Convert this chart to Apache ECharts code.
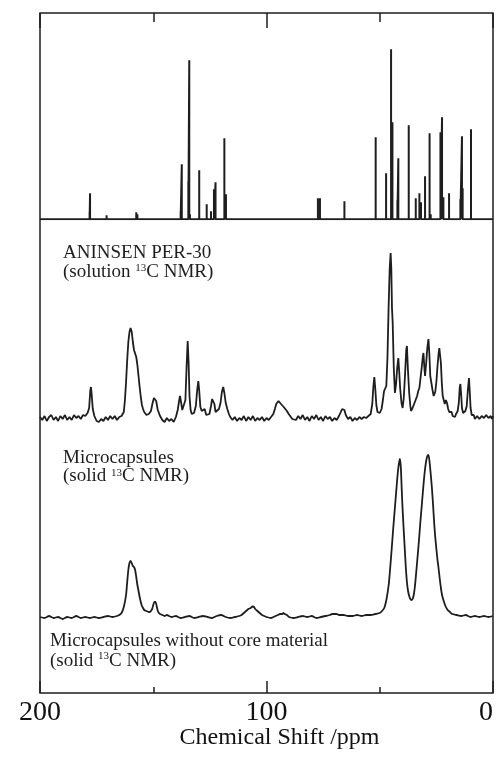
<!DOCTYPE html>
<html><head><meta charset="utf-8">
<script src="https://cdn.jsdelivr.net/npm/echarts@6/dist/echarts.min.js"></script>
<style>html,body{margin:0;padding:0;background:#fff}#c{width:496px;height:758px}</style>
</head><body><div id="c"></div>
<script>
// ---- data (intensities in arbitrary units) ----
const xTicks = [200, 100, 0];
const stickPpm = [178.1,177.9,170.6,157.5,157.0,137.9,137.4,134.5,134.1,133.8,129.7,126.4,124.5,123.2,122.5,118.6,117.9,77.3,76.4,65.6,51.8,47.2,45.0,44.4,42.2,41.8,37.2,34.1,32.5,31.8,30.0,28.0,27.5,23.2,22.5,21.9,19.4,14.4,13.7,13.4,9.7];
const stickHeight = [7,26,4,7,5,8,55,38,159,5,49,15,8,30,37,81,25,21,21,18,82,46,170,97,19,61,94,21,26,17,43,86,5,87,102,22,26,20,83,31,90];

const solutionSpectrum = [[200,1],[199,-2],[198,2],[197,-3],[196,1],[195,3],[194,-2],[193,1],[192,-3],[191,2],[190,-1],[189,3],[188,-2],[187,1],[186,-2],[185,3],[184,0],[183,2],[182,-1],[181,3],[180,2],[179,5],[178.3,10],[177.8,27],[177.5,31],[177.2,24],[176.7,9],[176,2],[175,-3],[174,-4],[173,-1],[172,-3],[171,1],[170,-2],[169,2],[168,-1],[167,2],[166,-2],[165,1],[164,2],[163,6],[162.5,18],[162,36],[161.5,58],[161,76],[160.5,86],[160,90],[159.5,86],[159,76],[158.5,68],[158,66],[157.5,61],[157,53],[156.5,42],[156,31],[155.5,21],[155,13],[154.5,9],[154,6],[153,3],[152,4],[151,7],[150.3,15],[149.7,20],[149.2,21],[148.7,17],[148,8],[147,2],[146,-2],[145,-4],[144,0],[143,-3],[142,-1],[141,-4],[140,1],[139.2,8],[138.6,17],[138.2,22],[137.8,17],[137.2,8],[136.6,6],[135.8,18],[135.3,50],[134.8,77],[134.4,56],[134,22],[133.5,8],[133,4],[132,5],[131.2,12],[130.6,28],[130.1,37],[129.7,27],[129.2,11],[128.6,7],[128,6],[127.3,9],[126.6,3],[126,1],[125.2,4],[124.5,12],[124,19],[123.5,21],[123,14],[122.5,6],[121.8,8],[121,9],[120.3,15],[119.7,26],[119.1,31],[118.6,25],[118,15],[117.3,9],[116.6,4],[116,1],[115,-2],[114,1],[113,-3],[112,0],[111,-2],[110,2],[109,-3],[108,1],[107,-2],[106,2],[105,-3],[104,0],[103,-2],[102,1],[101,-3],[100,0],[99,-2],[98,1],[97,4],[96.3,9],[95.7,14],[95.2,16],[94.7,17],[94.2,16],[93.6,14],[93,12],[92.4,11],[91.8,9],[91,7],[90.2,4],[89.4,2],[88.6,-1],[88,1],[87,-2],[86,2],[85,-1],[84,3],[83,-2],[82,1],[81,-3],[80,2],[79,-1],[78,3],[77,-2],[76,1],[75,-3],[74,2],[73,-1],[72,1],[71,-3],[70,0],[69,-2],[68,2],[67.2,4],[66.6,9],[66.1,11],[65.6,8],[65,3],[64,-1],[63,1],[62,-3],[61,0],[60,-2],[59,1],[58,-1],[57,1],[56,0],[55,2],[54,4],[53.3,14],[52.8,32],[52.4,41],[52,30],[51.5,13],[51,6],[50.5,4],[50,5],[49.2,9],[48.6,18],[48.1,27],[47.6,25],[47.1,32],[46.6,60],[46.1,110],[45.6,150],[45.2,165],[44.9,150],[44.6,110],[44.3,96],[43.8,50],[43.3,25],[42.8,34],[42.3,50],[41.8,60],[41.4,46],[41,30],[40.4,15],[39.9,10],[39.4,20],[38.8,45],[38.3,68],[38,72],[37.6,50],[37,25],[36.5,12],[36.2,7],[35.5,10],[35,13],[34.5,16],[34,18],[33.5,22],[33,27],[32.5,30],[32,40],[31.5,50],[31,61],[30.7,65],[30.3,50],[30,42],[29.5,55],[29,70],[28.5,79],[28.1,64],[27.7,42],[27.2,35],[26.7,28],[26.2,22],[25.9,21],[25.5,26],[25,36],[24.5,52],[24,65],[23.7,70],[23.4,71],[23,55],[22.6,35],[22.2,22],[21.8,20],[21.3,14],[20.8,18],[20.3,15],[19.8,9],[19.3,6],[18.8,4],[18.3,6],[17.8,2],[17.3,4],[16.8,1],[16.3,4],[15.6,7],[15.1,15],[14.7,30],[14.4,34],[14.1,25],[13.7,10],[13.2,5],[12.7,4],[12.2,7],[11.6,12],[11.1,28],[10.6,40],[10.3,28],[9.9,10],[9.4,3],[9,1],[8.5,3],[8,-1],[7,2],[6,-1],[5,2],[4,0],[3,3],[2,0],[1,2],[0.5,-1],[0,2]];

const microSpectrum = [[200,0],[198,-1],[196,1],[194,-1],[192,0],[190,-2],[188,0],[186,-1],[184,1],[182,-1],[180,0],[178,-1],[176,0],[174,-1],[172,0],[170,1],[168,0],[166,1],[165,2],[164,4],[163,10],[162,22],[161.5,35],[161,47],[160.5,54],[160,56],[159.5,54],[159,51],[158.5,50],[158,47],[157.5,40],[157,32],[156.5,26],[156,20],[155.5,15],[155,11],[154.5,9],[154,7],[153,6],[152,5],[151.5,5],[150.5,8],[150,12],[149.5,15],[149,15],[148.5,11],[148,6],[147.5,4],[147,3],[146,2],[145,1],[144,2],[142,0],[140,1],[138,-1],[136,0],[134,1],[132,-1],[130,0],[128,1],[126,0],[124,-1],[122,1],[120,2],[118,0],[116,-1],[114,0],[112,1],[111,2],[110,4],[109,6],[108,8],[107,9],[106.2,10.5],[105.5,10],[105,8],[104,6],[103,4],[102,2],[101,1],[100,0],[98,-1],[96,1],[95,2],[94,3],[93,3],[92.5,4],[92,3],[91,2],[90,0],[88,-1],[86,0],[84,1],[82,0],[80,1],[78,-1],[76,0],[74,1],[72,2],[71,3],[70,3],[69,3],[68,2],[66,2],[64,1],[62,1],[60,2],[58,1],[56,2],[54,2],[52,3],[50,4],[49,6],[48,9],[47,18],[46,33],[45.5,46],[45,60],[44.5,75],[44,90],[43.5,104],[43,118],[42.5,132],[42,145],[41.5,154],[41.1,158],[40.7,150],[40.3,128],[40,112],[39.5,90],[39,70],[38.5,50],[38,35],[37.5,26],[37,21],[36.5,18],[36,17],[35.5,18],[35,22],[34.5,30],[34,42],[33.5,55],[33,68],[32.5,82],[32,97],[31.5,110],[31,124],[30.5,137],[30,148],[29.5,156],[29,161],[28.5,162],[28,155],[27.5,143],[27,130],[26.4,110],[26,95],[25.5,80],[25,68],[24.5,57],[24.1,50],[23.5,38],[23,29],[22.5,22],[21.9,17],[21,11],[20,7],[19,5],[18,3],[16,2],[14,1],[12,2],[10,0],[8,1],[6,0],[4,1],[2,0],[0,1]];

const labelSolution = 'ANINSEN PER-30\n(solution {sup|13}C NMR)';
const labelMicro = 'Microcapsules\n(solid {sup|13}C NMR)';
const labelNoCore = 'Microcapsules without core material\n(solid {sup|13}C NMR)';
const axisTitle = 'Chemical Shift /ppm';

// ---- build stick line (sticks joined along the baseline) ----
const stickLine = [[200, 0]];
stickPpm.forEach((p, i) => { stickLine.push([p, 0], [p, stickHeight[i]], [p, 0]); });
stickLine.push([0, 0]);

const INK = '#1e1e1e';
const SERIF = '"Liberation Serif", "DejaVu Serif", serif';
const chart = echarts.init(document.getElementById('c'), null, {renderer: 'canvas'});

const hiddenX = (g) => ({type: 'value', gridIndex: g, min: 0, max: 200, inverse: true, show: false});
const supRich = {sup: {fontSize: 11, fontFamily: SERIF, fill: INK, color: INK, verticalAlign: 'top', lineHeight: 11}};

chart.setOption({
  animation: false,
  backgroundColor: '#fff',
  grid: [
    {left: 40, right: 3, top: 13, bottom: 65, show: true, borderColor: INK, borderWidth: 1.5, backgroundColor: 'transparent', outerBoundsMode: 'none'},
    {left: 40, right: 3, top: 19.3, height: 200, outerBoundsMode: 'none'},
    {left: 40, right: 3, top: 238, height: 200, outerBoundsMode: 'none'},
    {left: 40, right: 3, top: 437, height: 200, outerBoundsMode: 'none'}
  ],
  xAxis: [
    {type: 'value', gridIndex: 0, position: 'bottom', min: 0, max: 200, interval: 100, inverse: true,
     axisLine: {show: false},
     axisTick: {show: true, inside: true, length: 12, lineStyle: {color: INK, width: 1.5}},
     minorTick: {show: true, splitNumber: 2, length: 6, lineStyle: {color: INK, width: 1.5}},
     splitLine: {show: false},
     axisLabel: {show: true, margin: 6, fontSize: 28, fontFamily: SERIF, color: '#111',
       formatter: v => (xTicks.indexOf(v) >= 0 ? String(v) : ''), alignMinLabel: 'right'},
     name: axisTitle, nameLocation: 'middle', nameGap: 33, nameMoveOverlap: false,
     nameTextStyle: {fontSize: 24, fontFamily: SERIF, color: '#111', padding: [0, 0, 0, 26]}},
    {type: 'value', gridIndex: 0, position: 'top', min: 0, max: 200, interval: 100, inverse: true,
     axisLine: {show: false},
     axisTick: {show: true, inside: true, length: 15, lineStyle: {color: INK, width: 1.5}},
     minorTick: {show: true, splitNumber: 2, length: 9, lineStyle: {color: INK, width: 1.5}},
     splitLine: {show: false}, axisLabel: {show: false}},
    hiddenX(1), hiddenX(2), hiddenX(3)
  ],
  yAxis: [
    {type: 'value', gridIndex: 0, min: 0, max: 1, show: false},
    {type: 'value', gridIndex: 1, min: 0, max: 200, show: false},
    {type: 'value', gridIndex: 2, min: -20, max: 180, show: false},
    {type: 'value', gridIndex: 3, min: -20, max: 180, show: false}
  ],
  series: [
    {type: 'line', xAxisIndex: 2, yAxisIndex: 1, data: stickLine, showSymbol: false, symbol: 'none',
     lineStyle: {color: INK, width: 2}, silent: true},
    {type: 'line', xAxisIndex: 3, yAxisIndex: 2, data: solutionSpectrum, showSymbol: false, symbol: 'none',
     lineStyle: {color: INK, width: 1.8}, silent: true},
    {type: 'line', xAxisIndex: 4, yAxisIndex: 3, data: microSpectrum, showSymbol: false, symbol: 'none', smooth: 0.2,
     lineStyle: {color: INK, width: 1.8}, silent: true}
  ],
  graphic: [
    {type: 'text', left: 63, top: 244, silent: true,
     style: {text: labelSolution, fontSize: 19, fontFamily: SERIF, fill: INK, lineHeight: 19, rich: supRich}},
    {type: 'text', left: 63, top: 449, silent: true,
     style: {text: labelMicro, fontSize: 19, fontFamily: SERIF, fill: INK, lineHeight: 18, rich: supRich}},
    {type: 'text', left: 50, top: 631, silent: true,
     style: {text: labelNoCore, fontSize: 19, fontFamily: SERIF, fill: INK, lineHeight: 20, rich: supRich}}
  ]
});
</script>
</body></html>
